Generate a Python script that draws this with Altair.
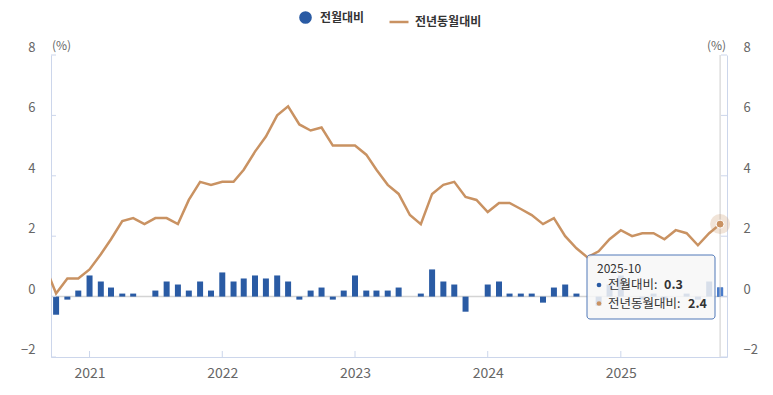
import altair as alt
import pandas as pd

# ---------------- data ----------------
months = [f"{y}-{m:02d}" for y in range(2020, 2026) for m in range(1, 13)]
months = months[months.index("2020-10"):months.index("2025-10") + 1]

# 전월대비 (month-over-month, %), 2020-10 .. 2025-10
mom = [
    -0.6, -0.1, 0.2,
    0.7, 0.5, 0.3, 0.1, 0.1, 0.0, 0.2, 0.5, 0.4, 0.2, 0.5, 0.2,
    0.8, 0.5, 0.6, 0.7, 0.6, 0.7, 0.5, -0.1, 0.2, 0.3, -0.1, 0.2,
    0.7, 0.2, 0.2, 0.2, 0.3, 0.0, 0.1, 0.9, 0.5, 0.4, -0.5, 0.0,
    0.4, 0.5, 0.1, 0.1, 0.1, -0.2, 0.3, 0.4, 0.1, 0.0, -0.3, 0.4,
    0.7, 0.0, -0.1, 0.1, -0.1, 0.0, 0.1, -0.1, 0.5, 0.3,
]

# 전년동월대비 (year-over-year, %), 2020-09 .. 2025-10 (first point is clipped at the edge)
yoy_months = ["2020-09"] + months
yoy = [
    1.0,
    0.1, 0.6, 0.6,
    0.9, 1.4, 1.9, 2.5, 2.6, 2.4, 2.6, 2.6, 2.4, 3.2, 3.8, 3.7,
    3.8, 3.8, 4.2, 4.8, 5.3, 6.0, 6.3, 5.7, 5.5, 5.6, 5.0, 5.0,
    5.0, 4.7, 4.2, 3.7, 3.4, 2.7, 2.4, 3.4, 3.7, 3.8, 3.3, 3.2,
    2.8, 3.1, 3.1, 2.9, 2.7, 2.4, 2.6, 2.0, 1.6, 1.3, 1.5, 1.9,
    2.2, 2.0, 2.1, 2.1, 1.9, 2.2, 2.1, 1.7, 2.1, 2.4,
]

series_names = ["전월대비", "전년동월대비"]
y_ticks = [-2, 0, 2, 4, 6, 8]
year_ticks = [2021, 2022, 2023, 2024, 2025]

# ---------------- frames ----------------
df_bar = pd.DataFrame({"date": pd.to_datetime([m + "-01" for m in months]),
                       "mom": mom, "s": series_names[0]})
df_line = pd.DataFrame({"date": pd.to_datetime([m + "-01" for m in yoy_months]),
                        "yoy": yoy, "s": series_names[1]})
df_last = pd.DataFrame({"date": [df_bar["date"].iloc[-1]], "mom": [mom[-1]], "yoy": [yoy[-1]],
                        "label": [months[-1]],
                        "t1": [f"{series_names[0]}:"], "v1": [f"{mom[-1]}"],
                        "t2": [f"{series_names[1]}:"], "v2": [f"{yoy[-1]}"]})
df_yt = pd.DataFrame({"t": y_ticks})
df_xt = pd.DataFrame({"d": pd.to_datetime([f"{y}-01-01" for y in year_ticks])})

# ---------------- style ----------------
FONT = "Noto Sans CJK KR"
BLUE = "#2a5ba4"
BLUE_HOVER = "#4a7dcc"
TAN = "#c99262"
AXIS = "#ccd6eb"
W, H = 676, 302

x_scale = alt.Scale(domain=[alt.DateTime(year=2020, month=9, date=17),
                            alt.DateTime(year=2025, month=10, date=20)],
                    padding=0)
x_axis = alt.Axis(values=[alt.DateTime(year=y, month=1, date=1) for y in year_ticks],
                  format="%Y", grid=False, ticks=False, domainColor=AXIS,
                  labelColor="#666", labelFontSize=14, labelPadding=9,
                  labelFlush=False, title=None)
y_scale = alt.Scale(domain=[-2, 8], nice=False, zero=False)


def y_axis(orient):
    return alt.Axis(orient=orient, values=y_ticks, grid=False, ticks=False,
                    domainColor=AXIS, labelColor="#666", labelFontSize=13,
                    labelPadding=16, labelOffset=-7.5, labelBaseline="middle",
                    title="(%)", titleAngle=0,
                    titleX=10 if orient == "left" else -11, titleY=-10,
                    titleAlign="center", titleBaseline="middle",
                    titleFontSize=12, titleFontWeight="normal", titleColor="#666")


YL = y_axis("left")
YR = y_axis("right")


def X(field):
    return alt.X(field, scale=x_scale, axis=x_axis)


leg1 = alt.Legend(title=None, orient="none", legendX=248, legendY=-44,
                  symbolType="circle", symbolSize=160, symbolStrokeWidth=0,
                  labelFontSize=12, labelFontWeight="bold", labelColor="#333",
                  labelOffset=8, padding=0)
leg2 = alt.Legend(title=None, orient="none", legendX=337, legendY=-44,
                  symbolType="stroke", symbolSize=361, symbolStrokeWidth=2.5,
                  labelFontSize=12, labelFontWeight="bold", labelColor="#333",
                  labelOffset=5, padding=0)

# ---------------- left-axis group ----------------
zero = alt.Chart(pd.DataFrame({"v": [0]})).mark_rule(color="#d4d4d4", strokeWidth=1.5).encode(
    y=alt.Y("v:Q", scale=y_scale, axis=YL))
bars = alt.Chart(df_bar).mark_bar(size=6).encode(
    x=X("date:T"), y=alt.Y("mom:Q", scale=y_scale, axis=YL),
    color=alt.Color("s:N", scale=alt.Scale(domain=[series_names[0]], range=[BLUE]), legend=leg1))
bar_last = alt.Chart(df_last).mark_bar(size=6, color=BLUE_HOVER).encode(
    x=X("date:T"), y=alt.Y("mom:Q", scale=y_scale, axis=YL))
lticks = alt.Chart(df_yt).mark_rule(color=AXIS).encode(
    y=alt.Y("t:Q", scale=y_scale, axis=YL), x=alt.value(0), x2=alt.value(5))
xticks = alt.Chart(df_xt).mark_rule(color=AXIS).encode(
    x=X("d:T"), y=alt.value(H - 6), y2=alt.value(H))
cross = alt.Chart(df_last).mark_rule(color="#cccccc").encode(
    x=X("date:T"), y=alt.value(0), y2=alt.value(H))
group_a = alt.layer(zero, bars, bar_last, lticks, xticks, cross)

# ---------------- right-axis group ----------------
line = alt.Chart(df_line).mark_line(strokeWidth=2.5, clip=True).encode(
    x=X("date:T"), y=alt.Y("yoy:Q", scale=y_scale, axis=YR),
    stroke=alt.Stroke("s:N", scale=alt.Scale(domain=[series_names[1]], range=[TAN]), legend=leg2))
halo = alt.Chart(df_last).mark_circle(size=400, color=TAN, opacity=0.25).encode(
    x=X("date:T"), y=alt.Y("yoy:Q", scale=y_scale, axis=YR))
pt = alt.Chart(df_last).mark_circle(size=64, color=TAN, opacity=1, stroke="white", strokeWidth=1).encode(
    x=X("date:T"), y=alt.Y("yoy:Q", scale=y_scale, axis=YR))
rticks = alt.Chart(df_yt).mark_rule(color=AXIS).encode(
    y=alt.Y("t:Q", scale=y_scale, axis=YR), x=alt.value(W - 6), x2=alt.value(W))
group_b = alt.layer(line, halo, pt, rticks)

# ---------------- hover tooltip box ----------------
tt = alt.Chart(df_last)
box = tt.mark_rect(fill="#f7f7f7", fillOpacity=0.85, stroke="#5078b8", strokeWidth=1,
                   cornerRadius=3).encode(x=alt.value(536), x2=alt.value(664),
                                          y=alt.value(200), y2=alt.value(264))
t_date = tt.mark_text(align="left", baseline="middle", fontSize=12, color="#333").encode(
    x=alt.value(546), y=alt.value(213.5), text="label:N")
dot1 = tt.mark_circle(size=22, color=BLUE, opacity=1).encode(x=alt.value(548), y=alt.value(230))
t1 = tt.mark_text(align="left", baseline="middle", fontSize=12.5, color="#333").encode(
    x=alt.value(557), y=alt.value(230), text="t1:N")
v1 = tt.mark_text(align="left", baseline="middle", fontSize=12.5, color="#333", fontWeight="bold").encode(
    x=alt.value(613), y=alt.value(230), text="v1:N")
dot2 = tt.mark_circle(size=22, color=TAN, opacity=1).encode(x=alt.value(548), y=alt.value(248.5))
t2 = tt.mark_text(align="left", baseline="middle", fontSize=12.5, color="#333").encode(
    x=alt.value(557), y=alt.value(248.5), text="t2:N")
v2 = tt.mark_text(align="left", baseline="middle", fontSize=12.5, color="#333", fontWeight="bold").encode(
    x=alt.value(637), y=alt.value(248.5), text="v2:N")
tooltip = alt.layer(box, t_date, dot1, t1, v1, dot2, t2, v2)

chart = alt.layer(group_a, group_b, tooltip).resolve_scale(y="independent").properties(
    width=W, height=H,
    autosize=alt.AutoSizeParams(type="none"),
    padding={"left": 43, "top": 47, "right": 38, "bottom": 30},
).configure(font=FONT).configure_view(stroke=None)

chart.save("out.html", embed_options={"renderer": "svg", "actions": False})
